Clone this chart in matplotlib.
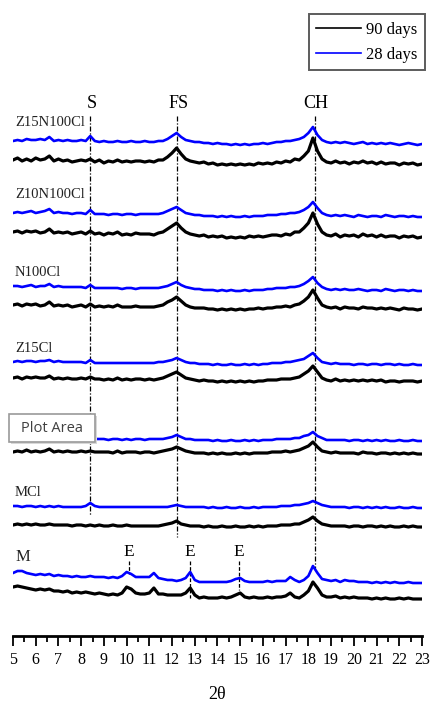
import numpy as np
import matplotlib
matplotlib.use('Agg')
import matplotlib.pyplot as plt
from matplotlib.patches import Rectangle

# 2theta grid, step 0.2 deg
two_theta = np.arange(0, 91) * 0.2 + 5.0

# 强度（像素单位，相对右端基线），28 days = 蓝, 90 days = 黑
z15n100_28 = [4, 5, 4, 6, 5, 5, 6, 5, 8, 4,
              5, 4, 5, 4, 4, 5, 4, 9, 4, 3,
              4, 3, 3, 4, 3, 3, 4, 3, 3, 4,
              3, 3, 4, 4, 6, 9, 12, 8, 5, 4,
              3, 3, 2, 2, 1, 2, 1, 1, 0, 1,
              0, 1, 0, 1, 1, 2, 1, 2, 3, 3,
              4, 4, 5, 6, 8, 12, 18, 10, 5, 3,
              2, 3, 2, 3, 2, 1, 2, 3, 1, 2,
              1, 2, 1, 2, 1, 0, 1, 2, 1, 0, 1]
z15n100_90 = [5, 7, 4, 6, 4, 7, 5, 6, 9, 4,
              6, 4, 5, 3, 4, 5, 4, 6, 3, 5,
              2, 4, 3, 5, 3, 4, 3, 4, 4, 3,
              4, 3, 5, 5, 8, 12, 17, 11, 6, 4,
              3, 2, 3, 1, 2, 0, 1, 0, 1, 0,
              1, 0, 1, 0, 2, 1, 2, 1, 3, 2,
              4, 3, 6, 5, 9, 14, 27, 14, 6, 3,
              2, 4, 2, 3, 1, 3, 2, 4, 2, 3,
              1, 3, 1, 2, 2, 0, 2, 1, 2, 0, 1]
z10n100_28 = [4, 5, 4, 5, 6, 4, 5, 6, 8, 4,
              5, 4, 4, 3, 4, 4, 3, 7, 3, 3,
              3, 2, 3, 3, 2, 3, 3, 2, 3, 3,
              3, 3, 3, 4, 6, 8, 10, 7, 4, 3,
              2, 2, 1, 1, 1, 0, 1, 0, 1, 0,
              0, 1, 0, 1, 1, 1, 2, 2, 2, 3,
              3, 4, 4, 5, 7, 10, 15, 9, 4, 2,
              1, 2, 1, 2, 1, 0, 2, 1, 0, 1,
              1, 0, 2, 1, 0, 1, 1, 0, 1, 0, 0]
z10n100_90 = [6, 7, 5, 7, 6, 7, 5, 6, 9, 5,
              6, 5, 6, 4, 5, 6, 4, 7, 4, 5,
              3, 5, 4, 6, 3, 4, 3, 5, 4, 4,
              4, 3, 5, 6, 9, 12, 15, 10, 6, 4,
              3, 2, 3, 1, 2, 1, 2, 0, 1, 0,
              1, 0, 2, 1, 2, 1, 2, 3, 3, 2,
              4, 3, 6, 6, 10, 15, 25, 14, 6, 3,
              2, 4, 1, 3, 2, 3, 1, 4, 2, 3,
              1, 3, 1, 2, 2, 0, 2, 1, 2, 0, 1]
n100_28 = [5, 5, 4, 5, 6, 4, 5, 5, 7, 4,
           5, 4, 4, 4, 4, 4, 3, 6, 3, 3,
           3, 3, 3, 3, 2, 3, 3, 2, 3, 3,
           3, 3, 3, 4, 5, 7, 9, 6, 4, 3,
           2, 2, 1, 1, 1, 0, 1, 0, 1, 0,
           0, 1, 0, 1, 1, 1, 2, 2, 3, 3,
           3, 4, 4, 5, 7, 10, 14, 8, 4, 2,
           1, 2, 1, 2, 1, 1, 2, 1, 0, 1,
           1, 0, 2, 1, 0, 1, 1, 0, 1, 0, 0]
n100_90 = [5, 6, 4, 6, 5, 6, 4, 5, 8, 4,
           5, 4, 5, 3, 4, 5, 3, 6, 3, 4,
           3, 4, 3, 5, 3, 3, 3, 4, 3, 3,
           3, 3, 4, 5, 8, 10, 13, 9, 5, 3,
           2, 2, 2, 1, 1, 0, 1, 0, 1, 0,
           1, 0, 1, 1, 2, 1, 2, 2, 3, 3,
           4, 3, 5, 6, 9, 13, 20, 12, 5, 3,
           2, 3, 1, 3, 2, 2, 1, 3, 2, 2,
           1, 2, 1, 2, 1, 0, 2, 1, 1, 0, 1]
z15_28 = [3, 4, 3, 4, 4, 3, 4, 4, 5, 3,
          4, 3, 3, 3, 3, 3, 2, 5, 2, 2,
          2, 2, 2, 2, 2, 2, 2, 2, 2, 2,
          2, 2, 3, 3, 4, 5, 7, 5, 3, 2,
          2, 1, 1, 1, 0, 1, 0, 0, 1, 0,
          0, 1, 0, 1, 0, 1, 1, 2, 2, 2,
          3, 3, 4, 5, 6, 9, 12, 7, 3, 2,
          1, 2, 1, 1, 1, 0, 1, 1, 0, 1,
          1, 0, 1, 1, 0, 1, 0, 0, 1, 0, 0]
z15_90 = [4, 5, 3, 5, 4, 5, 4, 4, 6, 3,
          4, 3, 4, 3, 3, 4, 3, 5, 3, 3,
          2, 3, 2, 4, 2, 3, 2, 3, 3, 2,
          3, 2, 3, 4, 6, 8, 10, 7, 4, 3,
          2, 1, 2, 1, 1, 0, 1, 0, 1, 0,
          1, 0, 1, 0, 1, 1, 2, 2, 2, 3,
          3, 3, 4, 5, 8, 11, 16, 10, 4, 2,
          1, 3, 1, 2, 1, 2, 1, 2, 1, 2,
          1, 2, 0, 1, 1, 0, 1, 1, 1, 0, 1]
hid_28 = [2, 3, 2, 3, 3, 2, 3, 2, 4, 2,
          3, 2, 2, 2, 2, 2, 2, 3, 2, 2,
          2, 1, 2, 2, 1, 2, 1, 2, 2, 1,
          2, 2, 2, 2, 3, 4, 6, 4, 2, 2,
          1, 1, 1, 1, 0, 1, 0, 0, 1, 0,
          0, 1, 0, 1, 0, 1, 1, 1, 2, 2,
          2, 2, 3, 3, 5, 6, 9, 5, 3, 1,
          1, 1, 1, 1, 0, 1, 1, 0, 1, 0,
          1, 0, 1, 0, 0, 1, 0, 0, 1, 0, 0]
hid_90 = [2, 3, 2, 4, 2, 3, 2, 3, 5, 2,
          3, 2, 3, 2, 2, 3, 2, 3, 2, 2,
          2, 2, 1, 3, 1, 2, 2, 2, 1, 2,
          2, 1, 2, 3, 4, 5, 7, 5, 3, 2,
          1, 1, 1, 0, 1, 0, 1, 0, 0, 1,
          0, 1, 0, 1, 1, 1, 1, 2, 2, 2,
          3, 2, 3, 4, 6, 8, 12, 7, 3, 2,
          1, 2, 1, 1, 1, 1, 0, 2, 1, 1,
          0, 1, 1, 0, 1, 0, 1, 0, 1, 0, 0]
mc_28 = [2, 2, 1, 2, 2, 1, 2, 1, 2, 1,
         2, 1, 1, 1, 1, 1, 2, 5, 2, 1,
         1, 1, 1, 1, 1, 1, 1, 1, 1, 1,
         1, 1, 1, 1, 1, 2, 3, 2, 1, 1,
         1, 1, 1, 0, 1, 0, 0, 1, 0, 0,
         1, 0, 0, 1, 0, 1, 1, 1, 1, 2,
         2, 2, 3, 3, 4, 5, 7, 5, 3, 2,
         1, 1, 1, 1, 0, 1, 1, 0, 1, 0,
         1, 0, 1, 0, 0, 1, 0, 0, 1, 0, 0]
mc_90 = [2, 3, 2, 3, 2, 3, 2, 2, 3, 2,
         2, 2, 2, 1, 2, 2, 1, 2, 1, 2,
         1, 1, 2, 1, 1, 2, 1, 1, 1, 1,
         1, 1, 1, 2, 3, 4, 6, 3, 2, 1,
         1, 1, 0, 1, 0, 0, 1, 0, 0, 1,
         0, 0, 1, 0, 1, 0, 1, 1, 1, 2,
         2, 2, 3, 3, 5, 7, 10, 6, 3, 2,
         1, 1, 1, 1, 0, 1, 1, 0, 1, 1,
         0, 1, 0, 1, 0, 0, 1, 0, 1, 0, 0]
m_28 = [10, 12, 12, 10, 9, 8, 9, 8, 9, 7,
        8, 7, 7, 6, 7, 6, 6, 7, 6, 6,
        6, 5, 6, 5, 7, 11, 9, 6, 6, 6,
        6, 10, 5, 4, 3, 3, 2, 3, 5, 11,
        3, 1, 1, 1, 1, 1, 1, 1, 2, 4,
        5, 2, 1, 1, 1, 1, 2, 1, 2, 2,
        2, 6, 3, 1, 3, 7, 17, 10, 4, 3,
        2, 3, 1, 3, 2, 2, 1, 1, 1, 0,
        1, 0, 1, 0, 1, 0, 0, 1, 0, 0, 0]
m_90 = [12, 13, 12, 11, 10, 9, 10, 9, 10, 8,
        8, 7, 8, 6, 7, 6, 7, 6, 5, 6,
        5, 4, 5, 4, 6, 12, 10, 6, 5, 5,
        6, 11, 5, 5, 4, 4, 4, 4, 6, 11,
        4, 1, 2, 1, 1, 1, 2, 1, 2, 4,
        6, 2, 1, 2, 1, 1, 2, 1, 2, 2,
        3, 6, 2, 1, 4, 8, 17, 11, 4, 2,
        2, 3, 1, 2, 1, 2, 1, 1, 1, 0,
        1, 0, 1, 0, 0, 1, 0, 1, 0, 0, 0]

samples = ['Z15N100Cl', 'Z10N100Cl', 'N100Cl', 'Z15Cl', '', 'MCl', 'M']
curves_28 = [z15n100_28, z10n100_28, n100_28, z15_28, hid_28, mc_28, m_28]
curves_90 = [z15n100_90, z10n100_90, n100_90, z15_90, hid_90, mc_90, m_90]

# peak marks
phase_names = ['S', 'FS', 'CH']
phase_pos = [8.4, 12.22, 18.27]
e_pos = [10.1, 12.78, 14.95]

# ---- layout: work in pixels (706 high, axis line at y=636) ----
W, H = 432, 706
def fy(p):  # pixel row -> data y
    return 636 - p

base_28 = [145, 217, 291, 365, 441, 508, 583]
base_90 = [165, 238, 310, 382, 454, 527, 599]
label_rows = [123, 195, 272, 348, None, 492, 557]

serif = ['Liberation Serif', 'DejaVu Serif']
plt.rcParams['font.family'] = serif

fig = plt.figure(figsize=(W / 100, H / 100), dpi=100)
ax = fig.add_axes([13 / W, 70 / H, 409 / W, 541 / H])
ax.set_xlim(5, 23)
ax.set_ylim(0, 541)

for i in range(len(samples)):
    l90, = ax.plot(two_theta, fy(base_90[i]) + np.array(curves_90[i]), color='black', lw=2.3, zorder=3)
    l28, = ax.plot(two_theta, fy(base_28[i]) + np.array(curves_28[i]), color='#0000ff', lw=1.9, zorder=3)
    if label_rows[i] is not None:
        fs = 12 if samples[i] == 'M' else 10.5
        ax.text(5.12 if samples[i] == 'M' else 5.08, fy(label_rows[i]), samples[i],
                fontsize=fs, va='center', ha='left', color='#222222')

# dash-dot reference lines
ends = [515, 537, 568]
for name, pos, end in zip(phase_names, phase_pos, ends):
    ax.plot([pos, pos], [fy(116), fy(end)], color='black', lw=0.9, dashes=(4, 1.5, 1, 1.5), zorder=2)
    ax.text(pos + 0.05, fy(103), name, fontsize=13, ha='center', va='center')

e_ends = [574, 598, 590]
for pos, end in zip(e_pos, e_ends):
    ax.plot([pos, pos], [fy(561), fy(end)], color='black', lw=0.9, dashes=(3, 1.5), zorder=2)
    ax.text(pos, fy(552), 'E', fontsize=12.5, ha='center', va='center')

# axis: only bottom
for s in ['left', 'right', 'top']:
    ax.spines[s].set_visible(False)
ax.spines['bottom'].set_linewidth(2)
ax.set_yticks([])
ax.set_xticks(np.arange(5, 24, 1))
ax.set_xticks(np.arange(5.5, 23, 1), minor=True)
ax.tick_params(axis='x', which='major', direction='out', length=7.5, width=1.3, labelsize=11.5, pad=4)
ax.tick_params(axis='x', which='minor', direction='out', length=4, width=1.3)
ax.set_xlabel('2θ', fontsize=13, labelpad=13)

# legend
leg = fig.legend([l90, l28], ['90 days', '28 days'], loc='upper right',
                 bbox_to_anchor=(425 / W, 1 - 14 / H), fontsize=12, frameon=True,
                 fancybox=False, handlelength=2.7, handletextpad=0.3,
                 labelspacing=0.55, borderpad=0.45, borderaxespad=0)
leg.get_frame().set_edgecolor('#333333')
leg.get_frame().set_linewidth(1.4)
for ln in leg.get_lines():
    ln.set_linewidth(1.2)

# "Plot Area" tooltip left on the screenshot
fig.patches.append(Rectangle((11 / W, 1 - 444 / H), 86 / W, 28 / H, transform=fig.transFigure,
                             facecolor='#d8d8d8', edgecolor='none', zorder=10))
fig.patches.append(Rectangle((9 / W, 1 - 442 / H), 86 / W, 28 / H, transform=fig.transFigure,
                             facecolor='white', edgecolor='#9a9a9a', lw=1.2, zorder=11))
fig.text(52 / W, 1 - 428 / H, 'Plot Area', fontsize=10.5, family=['Open Sans', 'DejaVu Sans'],
         color='#404040', ha='center', va='center', zorder=12)

fig.savefig('out.png', dpi=100)
